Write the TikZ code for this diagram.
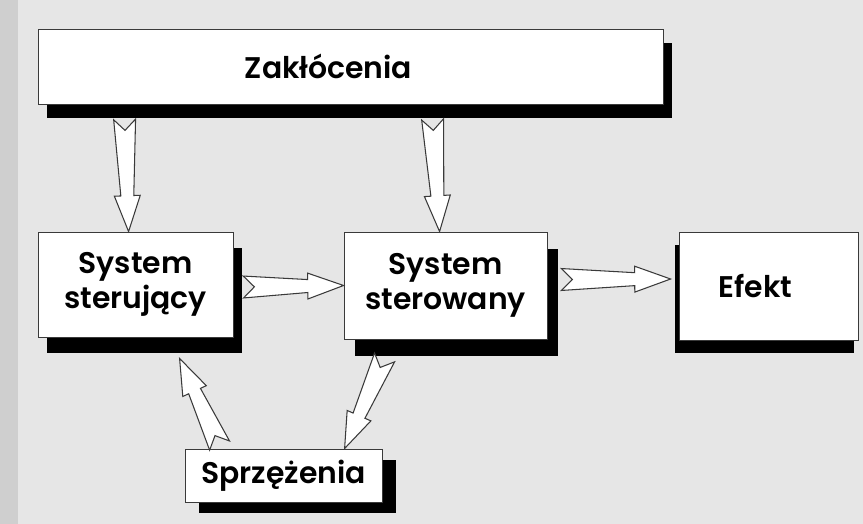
\documentclass[tikz,border=0pt]{standalone}
\usepackage{fontspec}
\setmainfont{Poppins}[BoldFont={Poppins SemiBold}]
\usepackage{xcolor}
\usetikzlibrary{positioning,calc,shadows}
\definecolor{SPage}{HTML}{E6E6E6}
\definecolor{SEdge}{HTML}{CFCFCF}
\definecolor{SLine}{HTML}{3A3A3A}
\def\pxu{0.5669}
% hollow arrow with a notched tail, from #1 to #2
\newcommand\hollowarrow[2]{%
  \path let \p1=#1, \p2=#2 in \pgfextra{%
    \pgfmathsetmacro\arrang{atan2(\y2-\y1,\x2-\x1)}\global\let\arrang\arrang
    \pgfmathsetmacro\arrlen{veclen(\x2-\x1,\y2-\y1)/\pxu}\global\let\arrlen\arrlen};
  \draw[fatarrow, shift={#1}, rotate=\arrang, x=\pxu pt, y=\pxu pt]
    (0,11) -- ({\arrlen-36},6.5) -- ({\arrlen-36},13) -- (\arrlen,0)
    -- ({\arrlen-36},-13) -- ({\arrlen-36},-6.5) -- (0,-11) -- (11,0) -- cycle;}

\begin{document}
\begin{tikzpicture}[x=0.02cm, y=-0.02cm,
  every node/.style={font=\bfseries\fontsize{17}{20}\selectfont, text=black},
  box/.style 2 args={draw=SLine, fill=white, line width=0.5pt, align=center,
    inner sep=0pt,
    drop shadow={shadow xshift=#1, shadow yshift=#2, fill=black, opacity=1}},
  fatarrow/.style={draw=SLine, fill=white, line width=0.6pt, line join=miter}]
\useasboundingbox (0,0) rectangle (863,524);
\fill[SPage] (0,0) rectangle (863,524);
\fill[SEdge] (0,0) rectangle (18,524);
\node[box={5.3pt}{-8pt},   minimum width=12.5cm, minimum height=1.5cm,
      label={[name=zaktxt, xshift=-0.44cm]center:Zakłócenia}]  (zak)   at (350.5,66.5) {};
\node[box={5.3pt}{-9pt},   minimum width=3.9cm,  minimum height=2.1cm]  (ster1) at (135.5,284.5) {System\\sterujący};
\node[box={6.5pt}{-9.5pt}, minimum width=4.06cm, minimum height=2.14cm] (ster2) at (445.5,285.5) {System\\sterowany};
\node[box={-2.5pt}{-7.5pt},minimum width=3.58cm, minimum height=2.16cm,
      label={[name=eftxt, xshift=-0.26cm]center:Efekt}] (efekt) at (768.5,286) {};
\node[box={8pt}{-6.2pt},   minimum width=3.94cm, minimum height=1.06cm] (sprz)  at (283.5,475.5) {Sprzężenia};
\hollowarrow{($(zak.south west)+(87,15)$)}{($(ster1.north west)+(91,0)$)}
\hollowarrow{($(zak.south west)+(395,15)$)}{($(ster2.north west)+(96,0)$)}
\hollowarrow{($(ster1.east)+(10,2.5)$)}{(ster2.west)}
\hollowarrow{($(ster2.east)+(14,-6)$)}{($(efekt.west)+(-8,-7)$)}
\hollowarrow{($(ster2.south west)+(41,18)$)}{($(sprz.north west)+(160,0)$)}
\hollowarrow{($(sprz.north west)+(35,-3)$)}{($(ster1.south west)+(142,21)$)}
\end{tikzpicture}
\end{document}
